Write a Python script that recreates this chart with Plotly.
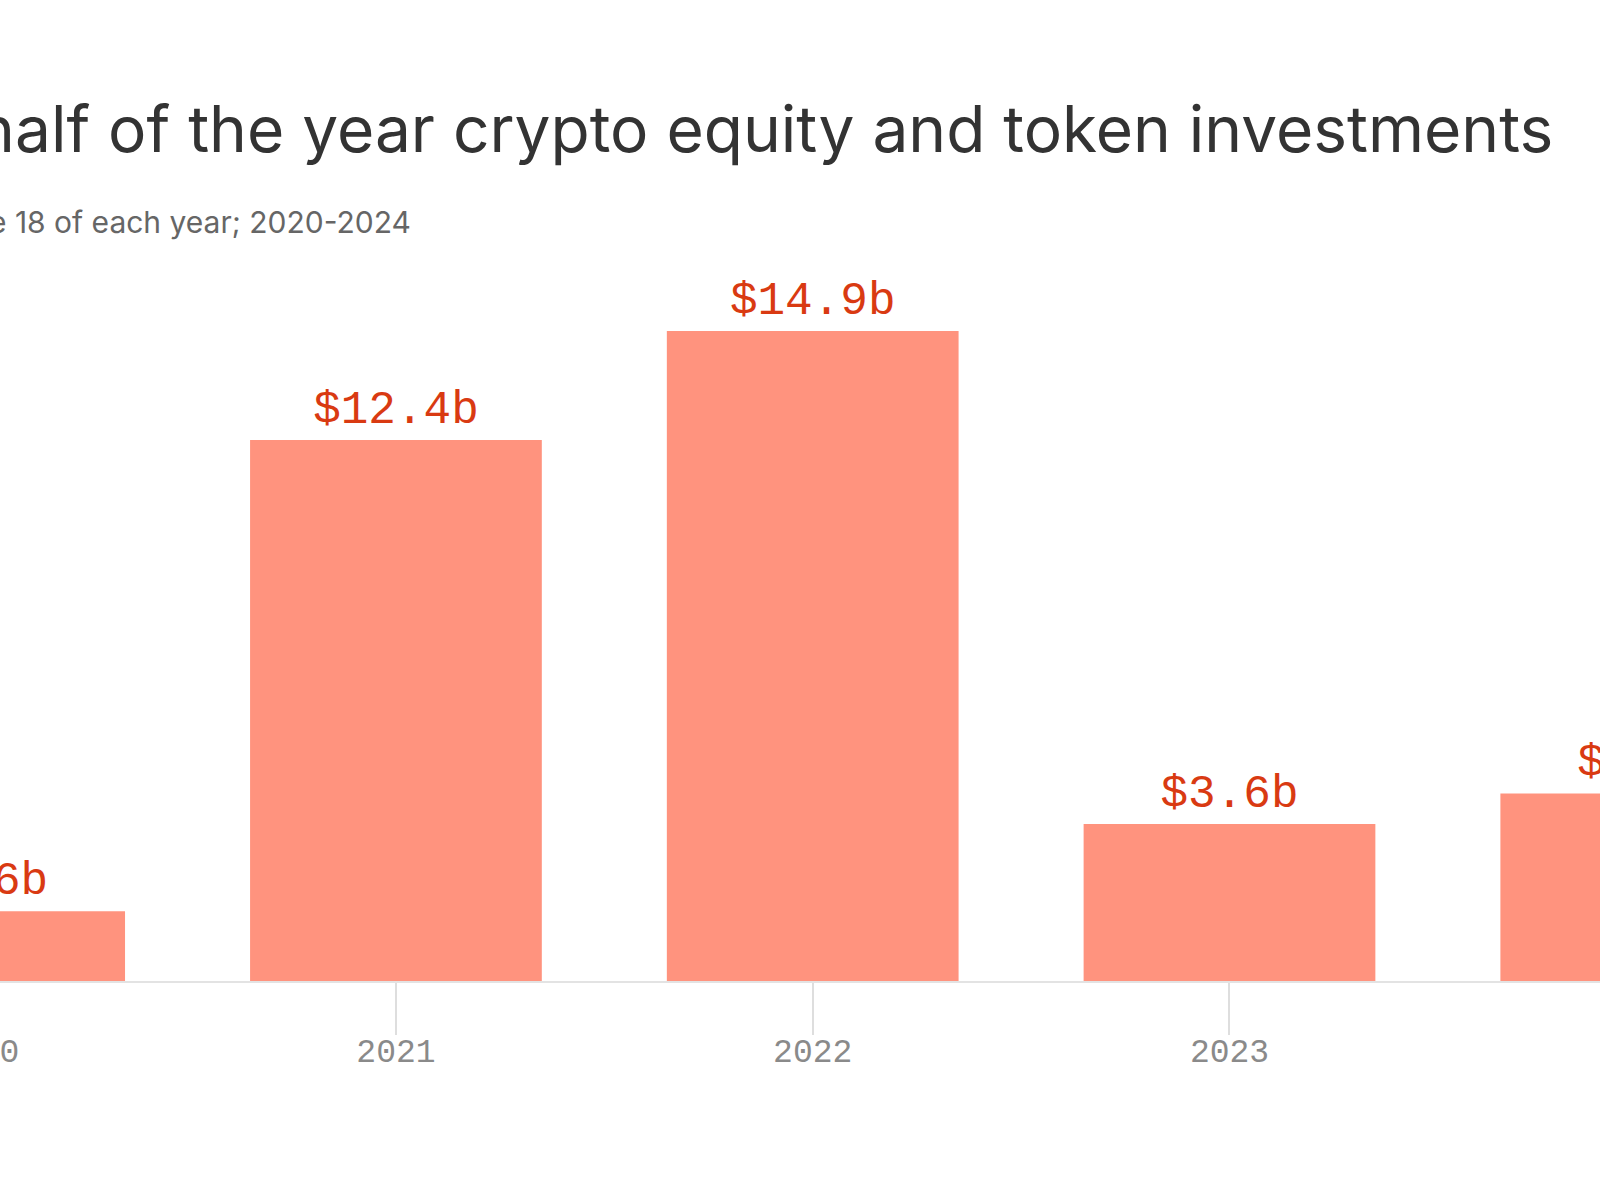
import plotly.graph_objects as go

years = [2020, 2021, 2022, 2023, 2024]
invested = [1.6, 12.4, 14.9, 3.6, 4.3]  # billions of dollars
labels = ["$1.6b", "$12.4b", "$14.9b", "$3.6b", "$4.3b"]
tick_text = ["2020", "2021", "2022", "2023", "2024"]

title = "First half of the year crypto equity and token investments"
subtitle = "Jan. 1 to June 18 of each year; 2020-2024"

mono = "Liberation Mono"
x_range = [2020.05, 2023.889]

fig = go.Figure(data=[go.Bar(x=years, y=invested,
                             text=labels, textposition="outside",
                             textfont=dict(family=mono, size=46, color="#d93a12"),
                             marker=dict(color="#ff937e", line=dict(width=0)),
                             width=0.7, cliponaxis=True)])

fig.update_layout(
    width=1600, height=1200,
    margin=dict(l=0, r=0, t=200, b=219),
    plot_bgcolor="white", paper_bgcolor="white",
    showlegend=False,
)

fig.update_xaxes(range=x_range, tickvals=years, ticktext=tick_text,
                 ticks="outside", ticklen=52, tickwidth=2, tickcolor="#dedede",
                 ticklabelstandoff=-13,
                 showline=True, linecolor="#e3e3e3", linewidth=2,
                 showgrid=False, zeroline=False,
                 tickfont=dict(family=mono, size=33, color="#8a8a8a"))
fig.update_yaxes(range=[0, 17.9], visible=False, showgrid=False, zeroline=False)

# 2020 tick is just left of the visible range; plotly drops it, so put its label in paper coords
x2020 = (years[0] - x_range[0]) / (x_range[1] - x_range[0])
fig.add_annotation(text=tick_text[0], x=x2020, xref="paper", yref="paper", y=-0.093,
                   xanchor="center", yanchor="middle", showarrow=False,
                   font=dict(family=mono, size=33, color="#8a8a8a"))

fig.add_annotation(text=title, xref="paper", yref="paper", x=0.972, y=1.092,
                   xanchor="right", yanchor="middle", showarrow=False,
                   font=dict(family="Inter", size=64, color="#333333"))
fig.add_annotation(text=subtitle, xref="paper", yref="paper", x=0.258, y=0.972,
                   xanchor="right", yanchor="middle", showarrow=False,
                   font=dict(family="Inter", size=30, color="#666666"))

fig.write_html("out.html", config={"displayModeBar": False},
               post_script="document.body.style.margin='0';")
